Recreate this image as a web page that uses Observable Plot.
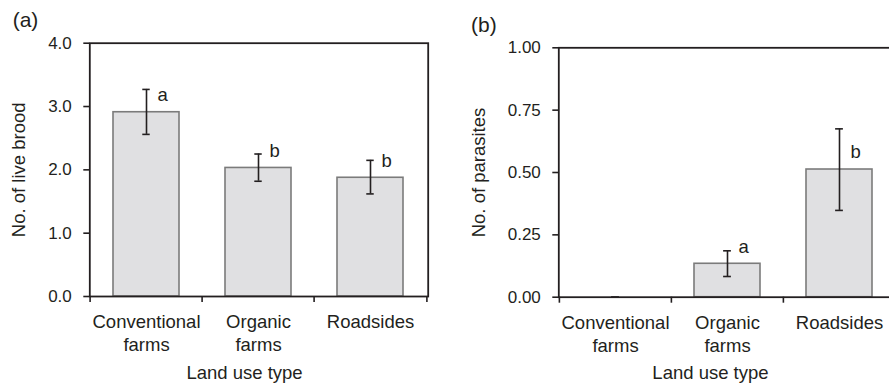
<!DOCTYPE html>
<html><head><meta charset="utf-8">
<script src="https://cdn.jsdelivr.net/npm/d3@7"></script>
<script src="https://cdn.jsdelivr.net/npm/@observablehq/plot@0.6"></script>
<style>
html,body{margin:0;padding:0;background:#fff;overflow:hidden}
#wrap{position:relative;width:889px;height:387px;overflow:hidden;background:#fff}
#wrap > div{position:absolute;top:0}
#wrap svg{max-width:none !important}
</style></head><body>
<div id="wrap"><div id="pa" style="left:0;width:450px"></div><div id="pb" style="left:450px;width:460px"></div></div>
<script>
const categories = ["Conventional farms", "Organic farms", "Roadsides"];
const categoryLabels = ["Conventional\nfarms", "Organic\nfarms", "Roadsides"];
const broodMean = [2.91, 2.03, 1.875];
const broodLow = [2.56, 1.82, 1.62];
const broodHigh = [3.27, 2.25, 2.15];
const broodLetters = ["a", "b", "b"];
const broodTicks = [0, 1, 2, 3, 4];
const parasiteMean = [0, 0.134, 0.512];
const parasiteLow = [0, 0.083, 0.348];
const parasiteHigh = [0, 0.186, 0.675];
const parasiteLetters = ["", "a", "b"];
const parasiteTicks = [0, 0.25, 0.5, 0.75, 1];

const ink = "#231f20";
const font = "'Liberation Sans', Arial, Helvetica, sans-serif";

function panel(o) {
  const rows = categories.map((c, i) => ({cat: c, mean: o.mean[i], lo: o.lo[i], hi: o.hi[i], letter: o.letters[i]}));
  const step = (o.width - o.ml - o.mr) / categories.length;
  const pad = 0.41;
  const bw = step * (1 - pad);
  const capInset = (bw - 8) / 2;
  return Plot.plot({
    width: o.width, height: 387,
    marginLeft: o.ml, marginRight: o.mr, marginTop: o.mt, marginBottom: o.mb,
    style: {fontFamily: font, color: ink, background: "transparent", overflow: "visible", maxWidth: "none"},
    x: {domain: categories, paddingInner: pad, paddingOuter: pad / 2},
    y: {domain: o.domain},
    marks: [
      Plot.barY(rows, {x: "cat", y: "mean", fill: "#e0e0e2", stroke: "#7b7b7b", strokeWidth: 1.6}),
      Plot.ruleX(rows, {x: "cat", y1: "lo", y2: "hi", stroke: ink, strokeWidth: 1.6}),
      Plot.tickY(rows, {x: "cat", y: "hi", stroke: ink, strokeWidth: 1.6, insetLeft: capInset, insetRight: capInset}),
      Plot.tickY(rows, {x: "cat", y: "lo", stroke: ink, strokeWidth: 1.6, insetLeft: capInset, insetRight: capInset}),
      Plot.text(rows, {x: "cat", y: "mean", text: "letter", dx: 11, dy: -17, textAnchor: "start", lineAnchor: "middle", fontSize: 18.5, fill: ink}),
      Plot.frame({stroke: ink, strokeWidth: 1.8}),
      Plot.ruleX(categories, {x: d => d, y1: 0, y2: 0, insetBottom: -6, dx: -step / 2, stroke: ink, strokeWidth: 1.6}),
      Plot.ruleX(categories.slice(-1), {x: d => d, y1: 0, y2: 0, insetBottom: -6, dx: step / 2, stroke: ink, strokeWidth: 1.6}),
      Plot.axisY({ticks: o.ticks, tickFormat: d3.format(o.fmt), tickSize: 6, tickPadding: 12, fontSize: 17, label: null, strokeWidth: 1.6}),
      Plot.axisX({tickSize: 0, tickPadding: 15, fontSize: 18.5, lineHeight: 1.25, label: null,
        tickFormat: d => categoryLabels[categories.indexOf(d)]}),
      Plot.text([o.ylabel], {frameAnchor: "left", dx: o.ylabelDx, rotate: -90, textAnchor: "middle", lineAnchor: "middle", fontSize: 18.5, fill: ink}),
      Plot.text(["Land use type"], {frameAnchor: "bottom", dx: o.xlabelDx, dy: o.xlabelDy, textAnchor: "middle", lineAnchor: "middle", fontSize: 18.5, fill: ink}),
      Plot.text([o.tag], {frameAnchor: "top-left", dx: o.tagDx, dy: o.tagDy, textAnchor: "middle", lineAnchor: "middle", fontSize: 21, fill: ink})
    ]
  });
}

document.getElementById("pa").append(panel({
  width: 450, ml: 89.3, mr: 22.3, mt: 42.7, mb: 91,
  domain: [0, 4], ticks: broodTicks, fmt: ".1f",
  mean: broodMean, lo: broodLow, hi: broodHigh, letters: broodLetters,
  ylabel: "No. of live brood", ylabelDx: -70.3, xlabelDx: -14.5, xlabelDy: 77,
  tag: "(a)", tagDx: -64.3, tagDy: -22.7
}));
document.getElementById("pb").append(panel({
  width: 460, ml: 108.3, mr: 15, mt: 47.3, mb: 90.3,
  domain: [0, 1], ticks: parasiteTicks, fmt: ".2f",
  mean: parasiteMean, lo: parasiteLow, hi: parasiteHigh, letters: parasiteLetters,
  ylabel: "No. of parasites", ylabelDx: -80, xlabelDx: -16.7, xlabelDy: 76.3,
  tag: "(b)", tagDx: -75, tagDy: -22.3
}));
</script>
</body></html>
